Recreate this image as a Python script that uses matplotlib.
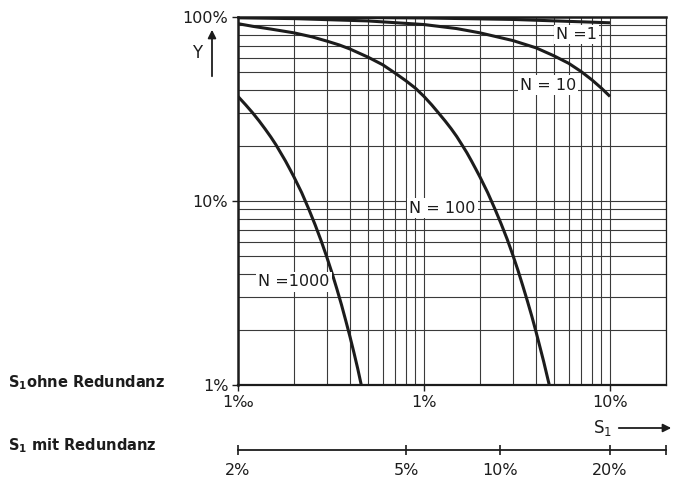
import matplotlib
matplotlib.use("Agg")
import matplotlib.pyplot as plt
from matplotlib.ticker import LogLocator, NullFormatter, NullLocator

# ---------------- data ----------------
s_n1 = [0.001, 0.003, 0.01, 0.03, 0.1]
y_n1 = [0.999, 0.996, 0.988, 0.97, 0.93]

s_n10 = [0.001, 0.002, 0.005, 0.01, 0.015, 0.02, 0.03, 0.04, 0.05, 0.06, 0.07, 0.08, 0.09, 0.1]
y_n10 = [0.99, 0.98, 0.952, 0.91, 0.865, 0.82, 0.745, 0.68, 0.615, 0.56, 0.505, 0.455, 0.41, 0.37]

s_n100 = [0.001, 0.0012, 0.0015, 0.002, 0.0025, 0.003, 0.0035, 0.004, 0.005, 0.006,
          0.007, 0.008, 0.009, 0.01, 0.011, 0.012, 0.013, 0.014, 0.015, 0.016,
          0.017, 0.018, 0.019, 0.02, 0.022, 0.024, 0.026, 0.028, 0.03, 0.032,
          0.034, 0.036, 0.038, 0.04, 0.042, 0.044, 0.046, 0.0475]
y_n100 = [0.92, 0.89, 0.86, 0.82, 0.78, 0.74, 0.705, 0.67, 0.605, 0.55,
          0.495, 0.45, 0.41, 0.37, 0.333, 0.30, 0.272, 0.247, 0.224, 0.202,
          0.183, 0.165, 0.149, 0.135, 0.111, 0.091, 0.075, 0.062, 0.051, 0.042,
          0.0345, 0.0285, 0.0236, 0.0195, 0.0161, 0.0134, 0.0111, 0.0097]

s_n1000 = [0.001, 0.0011, 0.0012, 0.0013, 0.0014, 0.0015, 0.0016, 0.0017, 0.0018, 0.0019,
           0.002, 0.0022, 0.0024, 0.0026, 0.0028, 0.003, 0.0032, 0.0034, 0.0036, 0.0038,
           0.004, 0.0042, 0.0044, 0.0046, 0.0047]
y_n1000 = [0.37, 0.333, 0.301, 0.272, 0.246, 0.223, 0.202, 0.182, 0.165, 0.149,
           0.135, 0.111, 0.0905, 0.0741, 0.0607, 0.0497, 0.0407, 0.0333, 0.0273, 0.0223,
           0.0183, 0.0150, 0.0123, 0.0100, 0.0091]

curve_labels = ["N =1", "N = 10", "N = 100", "N =1000"]

x_ticks = [0.001, 0.01, 0.1]
x_ticklabels = ["1‰", "1%", "10%"]
y_ticks = [0.01, 0.1, 1.0]
y_ticklabels = ["1%", "10%", "100%"]

# second scale: "S1 mit Redundanz" values located at these "ohne" values
mit_at_ohne = [0.001, 0.008, 0.0257, 0.1, 0.2]
mit_labels = ["2%", "5%", "10%", "20%", ""]

# ---------------- figure ----------------
W, H = 675, 479
fig = plt.figure(figsize=(W / 100, H / 100), dpi=100)
fig.patch.set_facecolor("white")

ink = "#1c1c1c"
gridc = "#3a3a3a"

L, R, T, B = 238, 666, 17, 385
ax = fig.add_axes([L / W, 1 - B / H, (R - L) / W, (B - T) / H])
ax.set_xscale("log")
ax.set_yscale("log")
ax.set_xlim(0.001, 0.2)
ax.set_ylim(0.01, 1.0)

ax.xaxis.set_minor_locator(LogLocator(base=10, subs=range(2, 10)))
ax.yaxis.set_minor_locator(LogLocator(base=10, subs=range(2, 10)))
ax.xaxis.set_minor_formatter(NullFormatter())
ax.yaxis.set_minor_formatter(NullFormatter())
ax.grid(True, which="both", color=gridc, linewidth=0.8)
ax.set_axisbelow(True)
ax.tick_params(which="minor", length=0)
ax.tick_params(which="major", length=4, width=1, color=ink, direction="out",
               labelsize=11.5, labelcolor=ink, pad=3)

ax.set_xticks(x_ticks)
ax.set_xticklabels(x_ticklabels)
ax.set_yticks(y_ticks)
ax.set_yticklabels(y_ticklabels)

for side, lw in [("left", 1.8), ("bottom", 1.6), ("top", 1.8), ("right", 0.9)]:
    ax.spines[side].set_linewidth(lw)
    ax.spines[side].set_color(ink)

lw_curve = 2.2
for s, y in [(s_n1, y_n1), (s_n10, y_n10), (s_n100, y_n100), (s_n1000, y_n1000)]:
    ax.plot(s, y, color=ink, linewidth=lw_curve, solid_capstyle="butt",
            solid_joinstyle="round", zorder=3)

label_pos = [(0.066, 0.80), (0.0465, 0.427), (0.0126, 0.0916), (0.0020, 0.0363)]
for txt, (xx, yy) in zip(curve_labels, label_pos):
    ax.text(xx, yy, txt, fontsize=11.5, color=ink, ha="center", va="center", zorder=4,
            bbox=dict(facecolor="white", edgecolor="none", pad=1.5))

# ---------------- second scale (mit Redundanz) ----------------
ax2 = fig.add_axes([L / W, 1 - 450 / H, (R - L) / W, 0.0001])
ax2.set_xscale("log")
ax2.set_xlim(0.001, 0.2)
ax2.patch.set_visible(False)
for side in ["left", "right", "top"]:
    ax2.spines[side].set_visible(False)
ax2.spines["bottom"].set_linewidth(1.3)
ax2.spines["bottom"].set_color(ink)
ax2.set_yticks([])
ax2.set_xticks(mit_at_ohne)
ax2.set_xticklabels(mit_labels)
ax2.xaxis.set_minor_locator(NullLocator())
ax2.xaxis.set_minor_formatter(NullFormatter())
ax2.tick_params(axis="x", which="major", direction="inout", length=7, width=1.2,
                color=ink, labelsize=11.5, labelcolor=ink, pad=6)

# ---------------- annotations ----------------
def fp(px, py):
    return (px, H - py)

# Y label with upward arrow
fig.text(197 / W, 1 - 53 / H, "Y", fontsize=12, color=ink, ha="center", va="center")
ax.annotate("", xy=fp(212, 27), xycoords="figure pixels",
            xytext=fp(212, 79), textcoords="figure pixels",
            arrowprops=dict(arrowstyle="-|>", color=ink, lw=1.3, mutation_scale=12))

# S1 label with right arrow
fig.text(603 / W, 1 - 428 / H, r"S$_1$", fontsize=12, color=ink, ha="center", va="center")
ax.annotate("", xy=fp(674, 428), xycoords="figure pixels",
            xytext=fp(616, 428), textcoords="figure pixels",
            arrowprops=dict(arrowstyle="-|>", color=ink, lw=1.3, mutation_scale=12))

fig.text(8 / W, 1 - 383 / H, r"S$_\mathbf{1}$ohne Redundanz", fontsize=10.5, fontweight="bold",
         color=ink, ha="left", va="center")
fig.text(8 / W, 1 - 446 / H, r"S$_\mathbf{1}$ mit Redundanz", fontsize=10.5, fontweight="bold",
         color=ink, ha="left", va="center")

fig.savefig("out.png", dpi=100, facecolor="white")
